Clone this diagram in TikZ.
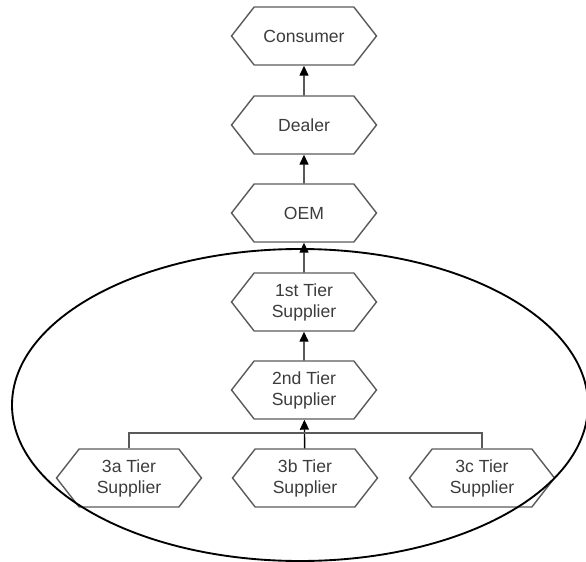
\documentclass[tikz,border=0pt]{standalone}
\usepackage{fontspec}
\setmainfont{Liberation Sans}
\usepackage{tikz}
\usetikzlibrary{arrows.meta}
\usetikzlibrary{shapes.symbols}
\usepackage{xcolor}
\definecolor{ColLine}{RGB}{90,90,90}
\definecolor{ColText}{RGB}{60,60,60}
\tikzstyle{NodeTier}=[signal,signal to=east and west,signal pointer angle=104,draw=ColLine,
line width=1.2pt,minimum width=4.35cm,minimum height=1.74cm,inner sep=0pt,align=center,
text=ColText,font=\fontsize{15}{18}\selectfont]
\tikzstyle{EdgeTier}=[black,line width=1.2pt,-{Triangle[length=0.3cm,width=0.27cm]}]
\tikzstyle{BusTier}=[ColLine,line width=1.2pt]

\begin{document}
\begin{tikzpicture}[x=0.03cm,y=-0.03cm]
        \useasboundingbox (0,0) rectangle (586,562);
        \node[NodeTier](consumer)at(304,36){Consumer};
        \node[NodeTier](dealer)at(304,125){Dealer};
        \node[NodeTier](oem)at(304,213){OEM};
        \node[NodeTier](tier1)at(304,302){1st Tier\\Supplier};
        \node[NodeTier](tier2)at(304,390){2nd Tier\\Supplier};
        \node[NodeTier](tier3a)at(129,478){3a Tier\\Supplier};
        \node[NodeTier](tier3b)at(305,478){3b Tier\\Supplier};
        \node[NodeTier](tier3c)at(482,478){3c Tier\\Supplier};
        \coordinate(bus)at(305,433);
        \draw[EdgeTier](dealer)--(consumer);
        \draw[EdgeTier](oem)--(dealer);
        \draw[EdgeTier](tier1)--(oem);
        \draw[EdgeTier](tier2)--(tier1);
        \draw[EdgeTier](tier3b)--(tier2);
        \draw[BusTier](tier3a.north)|-(bus)-|(tier3c.north);
        \draw[black,line width=1.6pt](300,405)ellipse(288 and 156);
    \end{tikzpicture}
\end{document}
